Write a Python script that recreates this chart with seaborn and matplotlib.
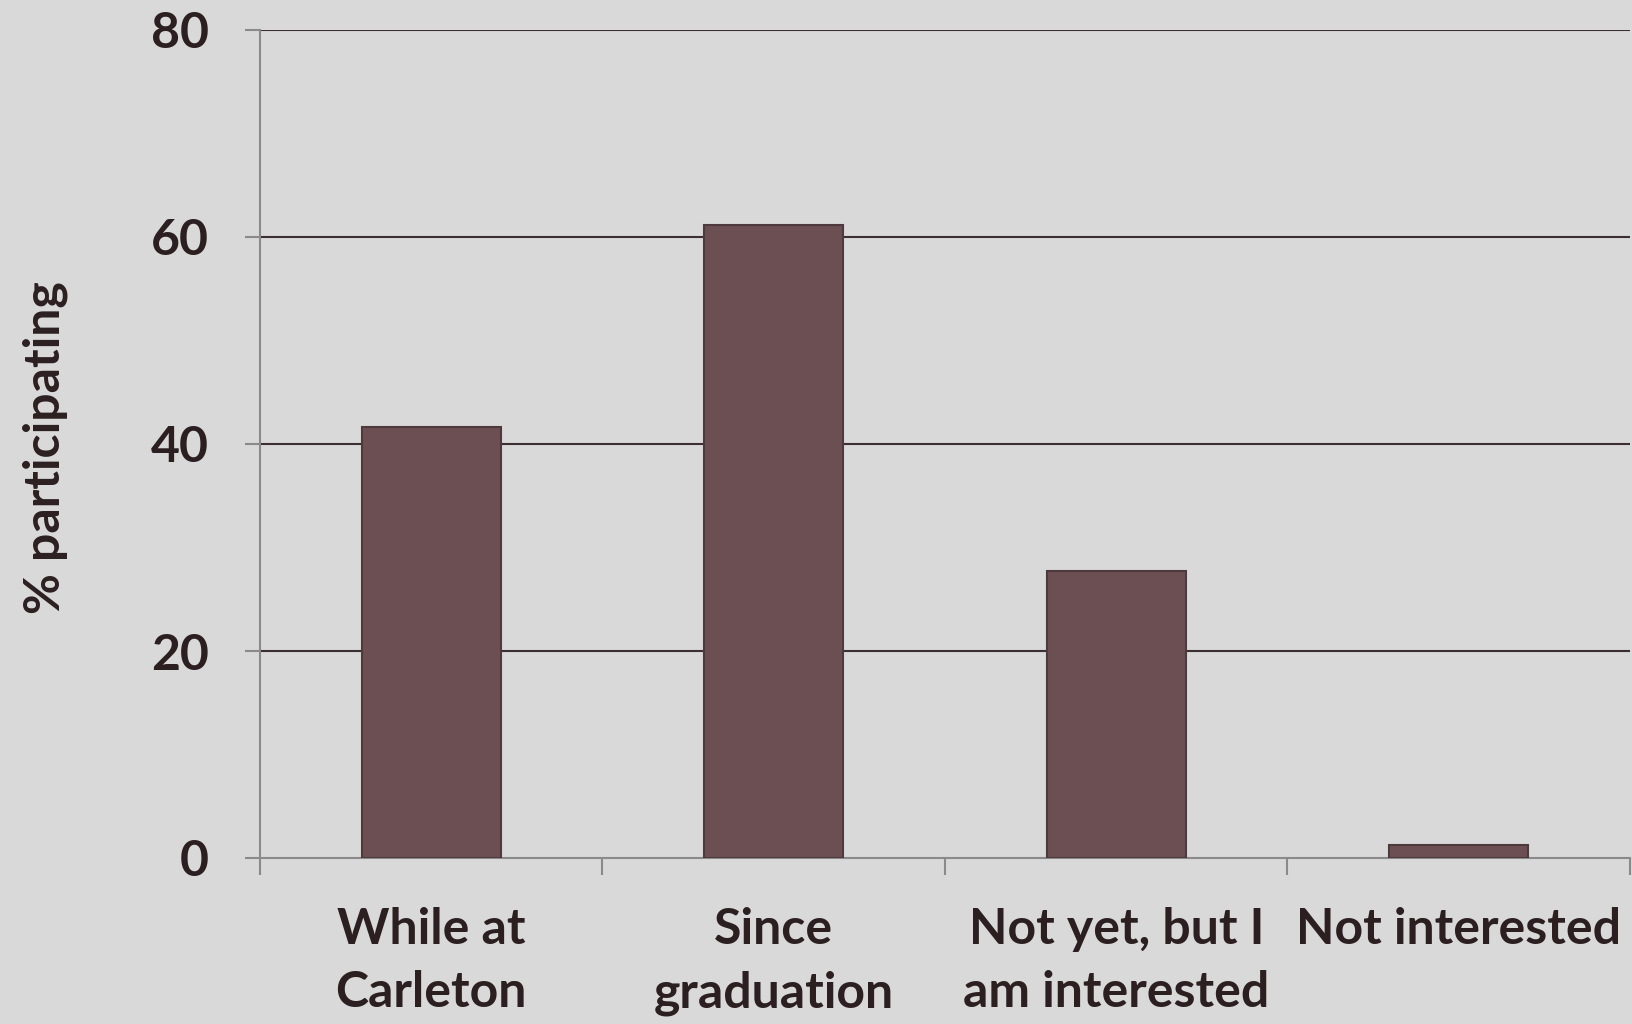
import matplotlib
matplotlib.use("Agg")
import matplotlib.pyplot as plt
import seaborn as sns
import pandas as pd
from matplotlib.ticker import FixedLocator

categories = ["While at\nCarleton", "Since\ngraduation", "Not yet, but I\nam interested", "Not interested"]
values = [41.6, 61.2, 27.7, 1.3]
yticks = [0, 20, 40, 60, 80]

sns.set_theme(style="white")
plt.rcParams['font.family'] = ['Lato', 'DejaVu Sans']
plt.rcParams['font.weight'] = 'bold'

bg = "#d9d9d9"
txt = "#2b1f22"
fig = plt.figure(figsize=(16.33, 10.24), dpi=100, facecolor=bg)
ax = fig.add_axes([260/1633, 1-858/1024, 1370/1633, 828/1024])
ax.set_facecolor(bg)

df = pd.DataFrame({"cat": categories, "val": values})
sns.barplot(data=df, x="cat", y="val", color="#6b4f53", width=0.405, saturation=1,
            edgecolor="#4e3a3e", linewidth=1.5, ax=ax, zorder=3)

ax.set_xlim(-0.5, 3.5)
ax.set_ylim(0, 80)
ax.set_yticks(yticks)
ax.set_yticklabels([str(v) for v in yticks])
for v in yticks[1:]:
    ax.axhline(v, color="#3d2e31", lw=1.5, zorder=1)

for s in ["top", "right"]:
    ax.spines[s].set_visible(False)
for s in ["left", "bottom"]:
    ax.spines[s].set_color("#8a8a8a")
    ax.spines[s].set_linewidth(1.5)

ax.xaxis.set_minor_locator(FixedLocator([-0.5, 0.5, 1.5, 2.5, 3.5]))
ax.tick_params(axis="x", which="major", length=0, pad=35, labelsize=36, labelcolor=txt)
ax.tick_params(axis="x", which="minor", length=12, width=1.5, color="#8a8a8a", direction="out", bottom=True)
ax.tick_params(axis="y", which="major", length=11, width=1.5, color="#8a8a8a", direction="out", left=True,
               pad=26, labelsize=36, labelcolor=txt)
for lab in ax.get_xticklabels():
    lab.set_linespacing(1.5)
    lab.set_fontweight("bold")
for lab in ax.get_yticklabels():
    lab.set_fontweight("bold")
ax.set_xlabel("")
ax.set_ylabel("")
fig.text(45/1633, 1-448/1024, "% participating", rotation=90, ha="center", va="center",
         fontsize=36, fontweight="bold", color=txt)

fig.savefig("out.png", dpi=100, facecolor=bg)
